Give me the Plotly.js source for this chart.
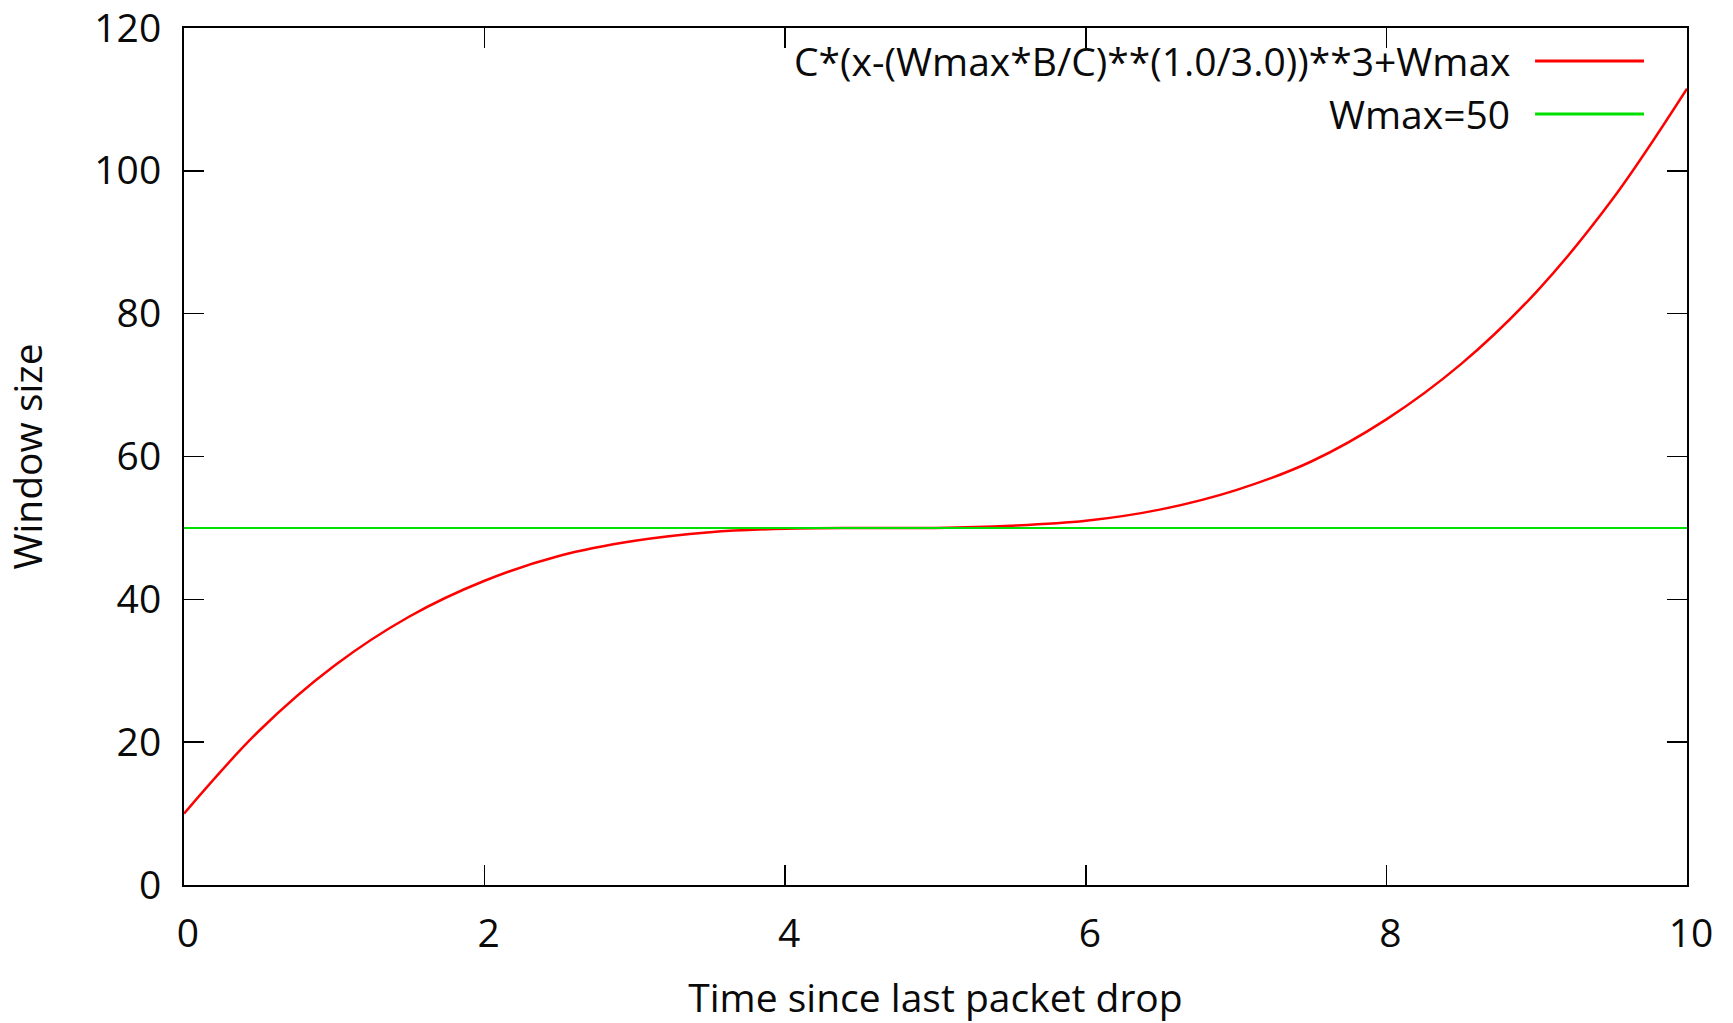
<!DOCTYPE html>
<html>
<head>
<meta charset="utf-8">
<script src="https://cdn.plot.ly/plotly-3.0.1.min.js"></script>
<style>
  html, body { margin: 0; padding: 0; background: #fff; }
  #chart { width: 1733px; height: 1023px; }
</style>
</head>
<body>
<div id="chart"></div>
<script>
// Values
const timeX = [0, 0.5, 1, 1.5, 2, 2.5, 3, 3.5, 4, 4.5, 5, 5.5, 6, 6.5, 7, 7.5, 8, 8.5, 9, 9.5, 10];
const windowY = [10.0, 21.6, 30.7, 37.6, 42.6, 46.1, 48.2, 49.4, 49.9, 50.0, 50.0, 50.3, 51.0, 52.6, 55.3, 59.3, 65.2, 73.0, 83.1, 95.9, 111.5];
const wmaxX = [0, 10];
const wmaxY = [50, 50];
const seriesNames = ["C*(x-(Wmax*B/C)**(1.0/3.0))**3+Wmax", "Wmax=50"];
const seriesColors = ["#ff0000", "#00e000"];
const xTicks = [0, 2, 4, 6, 8, 10];
const yTicks = [0, 20, 40, 60, 80, 100, 120];
const xTitle = "Time since last packet drop";
const yTitle = "Window size";

const font = "Open Sans, Noto Sans, sans-serif";
const fsize = 39;
const fcolor = "#0a0a0a";

const traces = [
  { x: timeX, y: windowY, type: "scatter", mode: "lines", name: seriesNames[0],
    line: { color: seriesColors[0], width: 2.5, shape: "spline", smoothing: 1 }, showlegend: false },
  { x: wmaxX, y: wmaxY, type: "scatter", mode: "lines", name: seriesNames[1],
    line: { color: seriesColors[1], width: 2 }, showlegend: false }
];

// gnuplot-style legend: text on the left, sample line on the right
const legendY = [0.9615, 0.8997];
const annotations = seriesNames.map((n, i) => ({
  xref: "paper", yref: "paper", x: 0.8836, y: legendY[i], xanchor: "right", yanchor: "middle",
  text: n, showarrow: false,
  font: { family: font, size: fsize, color: fcolor }
}));
const shapes = seriesNames.map((n, i) => ({
  type: "line", xref: "paper", yref: "paper", x0: 0.8989, x1: 0.9714, y0: legendY[i], y1: legendY[i],
  line: { color: seriesColors[i], width: 3 }
}));

const axisCommon = {
  showline: true, linecolor: "#000", linewidth: 2, mirror: "ticks",
  ticks: "inside", ticklen: 20, tickwidth: 1.5, tickcolor: "#000",
  showgrid: false, zeroline: false, ticklabeloverflow: "allow",
  tickfont: { family: font, size: fsize, color: fcolor }
};

const layout = {
  width: 1733, height: 1023,
  margin: { l: 184, r: 46, t: 28, b: 138 },
  paper_bgcolor: "#fff", plot_bgcolor: "#fff",
  xaxis: Object.assign({}, axisCommon, {
    range: [0, 10], tickvals: xTicks, ticktext: xTicks.map(String),
    ticklabelstandoff: 13, ticklabelshift: 4,
    title: { text: xTitle, font: { family: font, size: fsize, color: fcolor }, standoff: 50 }
  }),
  yaxis: Object.assign({}, axisCommon, {
    range: [0, 120], tickvals: yTicks, ticktext: yTicks.map(String),
    ticklabelstandoff: 13,
    title: { text: yTitle, font: { family: font, size: fsize, color: fcolor }, standoff: 43 }
  }),
  annotations: annotations,
  shapes: shapes,
  showlegend: false
};

Plotly.newPlot("chart", traces, layout, { staticPlot: true, displayModeBar: false });
</script>
</body>
</html>
